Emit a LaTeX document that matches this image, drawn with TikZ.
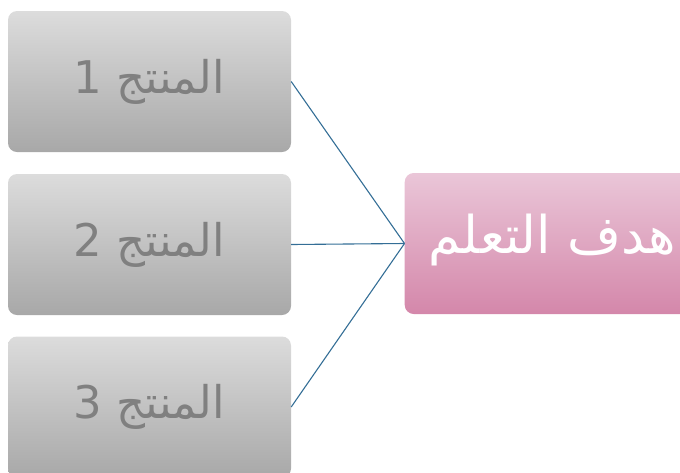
\documentclass[tikz,border=0pt]{standalone}
\usepackage{fontspec}
\newfontfamily\arabicfont[Script=Arabic]{DejaVu Sans}
\TeXXeTstate=1
\definecolor{lnk}{RGB}{52,110,150}
\definecolor{gtop}{RGB}{220,220,220}
\definecolor{gbot}{RGB}{168,168,168}
\definecolor{gtxt}{RGB}{128,128,128}
\definecolor{ptop}{RGB}{234,198,216}
\definecolor{pbot}{RGB}{212,135,170}
\tikzset{
  prodbox/.style={rectangle, rounded corners=9pt, minimum width=283pt, minimum height=141pt,
    top color=gtop, bottom color=gbot, draw=none, inner sep=0pt,
    font=\arabicfont\fontsize{45}{54}\selectfont, text=gtxt},
  goalbox/.style={rectangle, rounded corners=9pt, minimum width=290pt, minimum height=141pt,
    top color=ptop, bottom color=pbot, draw=none, inner sep=0pt},
  goaltxt/.style={font=\arabicfont\fontsize{52}{62}\selectfont, text=white, inner sep=0pt},
  link/.style={draw=lnk, line width=1.1pt}
}
\begin{document}
\begin{tikzpicture}[x=1pt,y=-1pt]
\useasboundingbox (0,0) rectangle (680,472);
\clip (0,0) rectangle (680,472);
\node[prodbox] (p1) at (149.5,81.5) {\beginR المنتج 1\endR};
\node[prodbox] (p2) at (149.5,244.5) {\beginR المنتج 2\endR};
\node[prodbox] (p3) at (149.5,407) {\beginR المنتج 3\endR};
\node[goalbox, anchor=west] (goal) at (404.5,243.5) {};
\node[goaltxt, anchor=west] (goaltext) at (428,240) {\beginR هدف التعلم\endR};
\draw[link] (p1.east) -- (goal.west);
\draw[link] (p2.east) -- (goal.west);
\draw[link] (p3.east) -- (goal.west);
\end{tikzpicture}
\end{document}
